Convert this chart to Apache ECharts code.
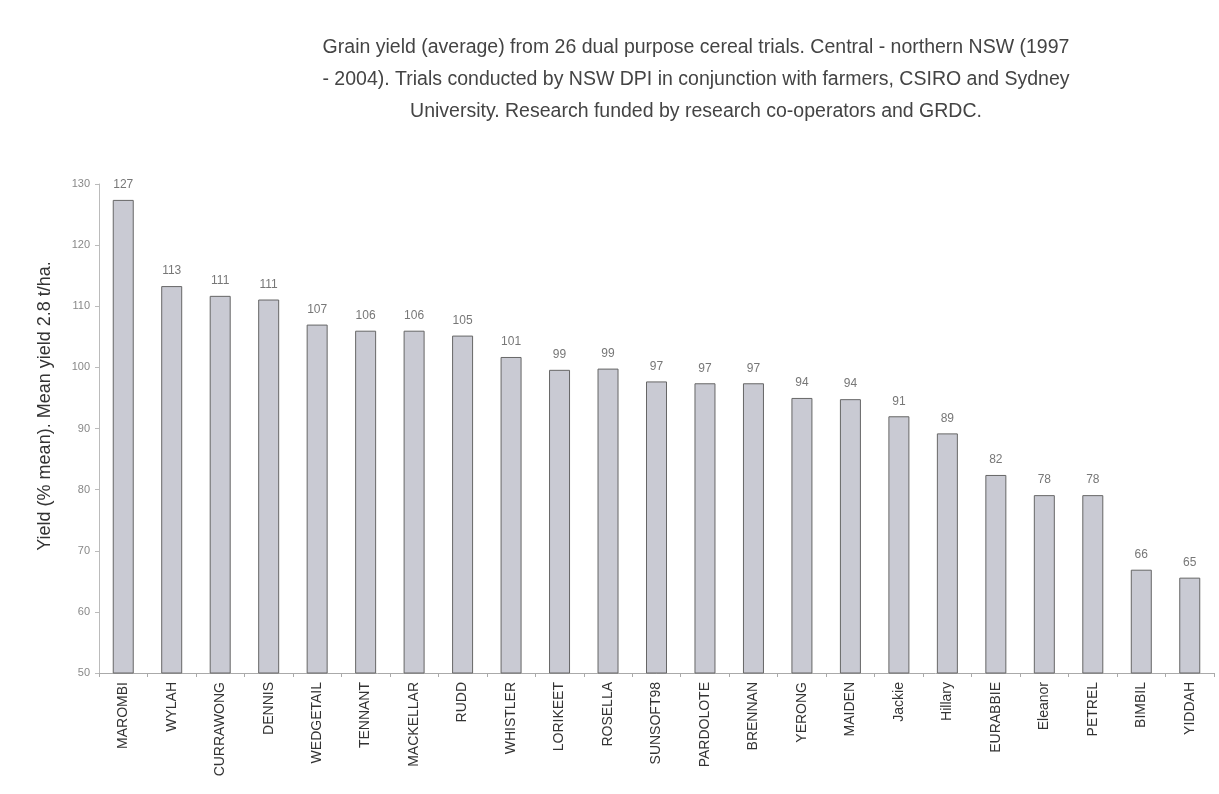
<!DOCTYPE html>
<html>
<head>
<meta charset="utf-8">
<script src="https://cdn.jsdelivr.net/npm/echarts@6/dist/echarts.min.js"></script>
<style>
html,body{margin:0;padding:0;background:#fff;}
#chart{width:1219px;height:794px;}
</style>
</head>
<body>
<div id="chart"></div>
<script>
var titleLines = [
  "Grain yield (average) from 26 dual purpose cereal trials. Central - northern NSW (1997",
  "- 2004). Trials conducted by NSW DPI in conjunction with farmers, CSIRO and Sydney",
  "University. Research funded by research co-operators and GRDC."
];
var yAxisTitle = "Yield (% mean). Mean yield 2.8 t/ha.";
var varieties = ["MAROMBI","WYLAH","CURRAWONG","DENNIS","WEDGETAIL","TENNANT","MACKELLAR","RUDD","WHISTLER","LORIKEET","ROSELLA","SUNSOFT98","PARDOLOTE","BRENNAN","YERONG","MAIDEN","Jackie","Hillary","EURABBIE","Eleanor","PETREL","BIMBIL","YIDDAH"];
var yieldPct = [127.4,113.3,111.7,111.1,107.0,106.0,106.0,105.2,101.7,99.6,99.8,97.7,97.4,97.4,95.0,94.8,92.0,89.2,82.4,79.1,79.1,66.9,65.6];
var shownLabels = ["127","113","111","111","107","106","106","105","101","99","99","97","97","97","94","94","91","89","82","78","78","66","65"];
var yTicks = {min:50, max:130, step:10};

var FONT = 'Liberation Sans, Arial, sans-serif';
var chart = echarts.init(document.getElementById('chart'), null, {renderer:'canvas'});
var titleGraphics = titleLines.map(function(t, i){
  return {
    type:'text', x:696, y:48 + i*32,
    style:{text:t, font:'19.5px ' + FONT, fill:'#444', textAlign:'center', textVerticalAlign:'middle'}
  };
});
titleGraphics.push({
  type:'text', x:45, y:406, rotation:Math.PI/2,
  style:{text:yAxisTitle, font:'18px ' + FONT, fill:'#333', textAlign:'center', textVerticalAlign:'middle'}
});
chart.setOption({
  backgroundColor:'#fff',
  animation:false,
  graphic:titleGraphics,
  grid:{left:99, right:5, top:184, bottom:121, containLabel:false},
  xAxis:{
    type:'category',
    data:varieties,
    axisLine:{lineStyle:{color:'#aaa', width:1}},
    axisTick:{show:true, alignWithLabel:false, length:4, lineStyle:{color:'#aaa'}},
    axisLabel:{rotate:90, interval:0, margin:9, fontSize:14, color:'#333', fontFamily:FONT}
  },
  yAxis:{
    type:'value',
    min:yTicks.min, max:yTicks.max, interval:yTicks.step,
    axisLine:{show:true, lineStyle:{color:'#bbb', width:1}},
    axisTick:{show:true, length:4, lineStyle:{color:'#bbb'}},
    splitLine:{show:false},
    axisLabel:{fontSize:11, color:'#888', margin:9, fontFamily:FONT}
  },
  series:[{
    type:'bar',
    data:yieldPct,
    barWidth:21,
    itemStyle:{color:'#c9cad3', borderColor:'#666', borderWidth:1},
    label:{
      show:true, position:'top', distance:9,
      fontSize:12, color:'#777', fontFamily:FONT,
      formatter:function(p){return shownLabels[p.dataIndex];}
    }
  }]
});
</script>
</body>
</html>
